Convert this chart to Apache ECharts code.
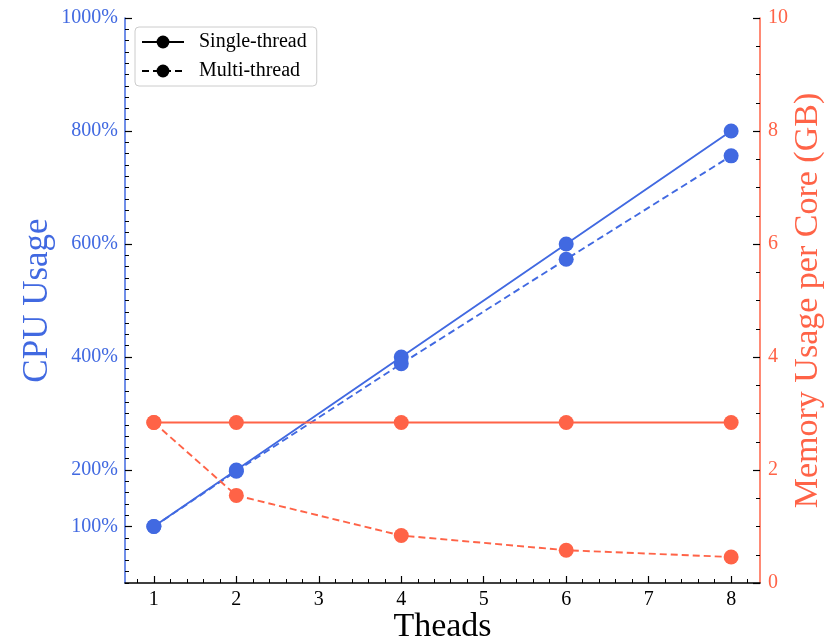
<!DOCTYPE html>
<html>
<head>
<meta charset="utf-8">
<script src="https://cdn.jsdelivr.net/npm/echarts@6/dist/echarts.min.js"></script>
<style>html,body{margin:0;padding:0;background:#fff;}#c{width:825px;height:643px;}</style>
</head>
<body>
<div id="c"></div>
<script>
var threads = [1, 2, 4, 6, 8];
var cpuSingle = [100, 200, 400, 600, 800];
var cpuMulti = [100, 198, 388, 573, 756];
var memSingle = [2.84, 2.84, 2.84, 2.84, 2.84];
var memMulti = [2.84, 1.55, 0.84, 0.58, 0.46];
var xTickLabels = [1, 2, 3, 4, 5, 6, 7, 8];
var cpuTickLabels = [100, 200, 400, 600, 800, 1000];
var memTickLabels = [0, 2, 4, 6, 8, 10];

var BLUE = '#4169E1', RED = '#FF6347';
var FONT = 'Liberation Serif';

function pairs(xs, ys) { return xs.map(function (x, i) { return [x, ys[i]]; }); }

var xMinor = [];
for (var v = 8; v <= 82; v += 2) xMinor.push(v / 10);
var cpuMinor = [];
for (var c = 0; c <= 1000; c += 20) cpuMinor.push(c);

var chart = echarts.init(document.getElementById('c'));
chart.setOption({
  animation: false,
  backgroundColor: '#fff',
  textStyle: { fontFamily: FONT },
  grid: { left: 125, right: 65, top: 18, bottom: 60, containLabel: false, outerBoundsMode: 'none' },
  legend: {
    left: 135, top: 27, orient: 'vertical',
    data: ['Single-thread', 'Multi-thread'],
    backgroundColor: '#fff', borderColor: '#cccccc', borderWidth: 1, borderRadius: 4,
    padding: [5, 10, 5, 6], itemGap: 9, itemWidth: 42, itemHeight: 16,
    textStyle: { fontFamily: FONT, fontSize: 20, color: '#000', padding: [0, 0, 0, 10] }
  },
  xAxis: [{
    type: 'value', min: 0.65, max: 8.35, position: 'bottom',
    axisLine: { show: true, lineStyle: { color: '#000', width: 1.5 } },
    axisTick: { show: true, inside: true, length: 7, customValues: xTickLabels, lineStyle: { color: '#000', width: 1.2 } },
    axisLabel: { customValues: xTickLabels, color: '#000', fontSize: 20, fontFamily: FONT, margin: 7 },
    splitLine: { show: false },
    name: 'Theads', nameLocation: 'middle', nameGap: 27, nameMoveOverlap: false,
    nameTextStyle: { fontFamily: FONT, fontSize: 34, color: '#000' }
  }, {
    type: 'value', min: 0.65, max: 8.35, position: 'bottom',
    axisLine: { show: false },
    axisTick: { show: true, inside: true, length: 4, customValues: xMinor, lineStyle: { color: '#000', width: 1 } },
    axisLabel: { show: false }, splitLine: { show: false }
  }],
  yAxis: [{
    type: 'value', min: 0, max: 1000, position: 'left',
    axisLine: { show: true, lineStyle: { color: BLUE, width: 1.5 } },
    axisTick: { show: true, inside: true, length: 7, customValues: cpuTickLabels, lineStyle: { color: '#000', width: 1.2 } },
    axisLabel: { customValues: cpuTickLabels, color: BLUE, fontSize: 20, fontFamily: FONT, margin: 7,
      formatter: function (val) { return String(val) + '%'; } },
    splitLine: { show: false },
    name: 'CPU Usage', nameLocation: 'middle', nameGap: 70, nameRotate: 90, nameMoveOverlap: false,
    nameTextStyle: { fontFamily: FONT, fontSize: 35, color: BLUE }
  }, {
    type: 'value', min: 0, max: 10, interval: 2, position: 'right',
    axisLine: { show: true, lineStyle: { color: RED, width: 1.5 } },
    axisTick: { show: true, inside: true, length: 7, lineStyle: { color: '#000', width: 1.2 } },
    minorTick: { show: true, splitNumber: 4, length: 4, lineStyle: { color: '#000', width: 1 } },
    axisLabel: { color: RED, fontSize: 20, fontFamily: FONT, margin: 8 },
    splitLine: { show: false }, minorSplitLine: { show: false },
    name: 'Memory Usage per Core (GB)', nameLocation: 'middle', nameGap: 31, nameRotate: 90, nameMoveOverlap: false,
    nameTextStyle: { fontFamily: FONT, fontSize: 34, color: RED }
  }, {
    type: 'value', min: 0, max: 1000, position: 'left',
    axisLine: { show: false },
    axisTick: { show: true, inside: true, length: 4, customValues: cpuMinor, lineStyle: { color: '#000', width: 1 } },
    axisLabel: { show: false }, splitLine: { show: false }
  }],
  series: [{
    name: 'CPU single', type: 'line', xAxisIndex: 0, yAxisIndex: 0,
    data: pairs(threads, cpuSingle), symbol: 'circle', symbolSize: 15,
    itemStyle: { color: BLUE }, lineStyle: { color: BLUE, width: 1.9, type: 'solid' }
  }, {
    name: 'CPU multi', type: 'line', xAxisIndex: 0, yAxisIndex: 0,
    data: pairs(threads, cpuMulti), symbol: 'circle', symbolSize: 15,
    itemStyle: { color: BLUE }, lineStyle: { color: BLUE, width: 1.9, type: [7, 4] }
  }, {
    name: 'Mem single', type: 'line', xAxisIndex: 0, yAxisIndex: 1,
    data: pairs(threads, memSingle), symbol: 'circle', symbolSize: 15,
    itemStyle: { color: RED }, lineStyle: { color: RED, width: 1.9, type: 'solid' }
  }, {
    name: 'Mem multi', type: 'line', xAxisIndex: 0, yAxisIndex: 1,
    data: pairs(threads, memMulti), symbol: 'circle', symbolSize: 15,
    itemStyle: { color: RED }, lineStyle: { color: RED, width: 1.9, type: [7, 4] }
  }, {
    name: 'Single-thread', type: 'line', xAxisIndex: 0, yAxisIndex: 0, data: [],
    symbol: 'circle', symbolSize: 15,
    itemStyle: { color: '#000' }, lineStyle: { color: '#000', width: 2, type: 'solid' }
  }, {
    name: 'Multi-thread', type: 'line', xAxisIndex: 0, yAxisIndex: 0, data: [],
    symbol: 'circle', symbolSize: 15,
    itemStyle: { color: '#000' }, lineStyle: { color: '#000', width: 2, type: [7, 4] }
  }]
});
</script>
</body>
</html>
